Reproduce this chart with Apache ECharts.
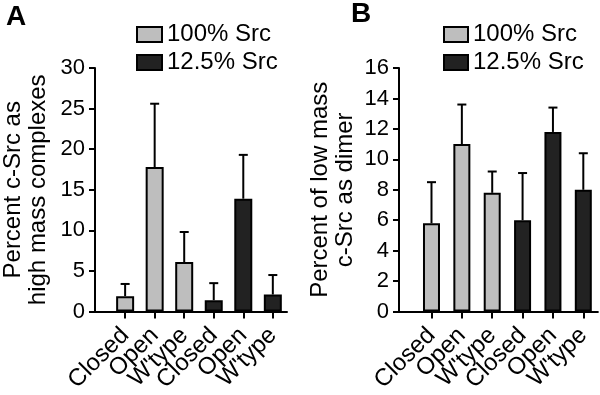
<!DOCTYPE html>
<html>
<head>
<meta charset="utf-8">
<script src="https://cdn.jsdelivr.net/npm/echarts@6/dist/echarts.min.js"></script>
<style>
html,body{margin:0;padding:0;background:#fff;}
#chart{width:600px;height:395px;}
</style>
</head>
<body>
<div id="chart"></div>
<script>
// ---- data ----
var categories = ['Closed', 'Open', "W'type", 'Closed', 'Open', "W'type"];
var seriesNames = ['100% Src', '12.5% Src'];
// Panel A: percent c-Src as high mass complexes
var aFull = [1.9, 17.8, 6.1];
var aFullErr = [1.5, 7.8, 3.7];
var aLow = [1.4, 13.9, 2.1];
var aLowErr = [2.1, 5.4, 2.4];
// Panel B: percent of low mass c-Src as dimer
var bFull = [5.8, 11.0, 7.8];
var bFullErr = [2.7, 2.6, 1.4];
var bLow = [6.0, 11.8, 8.0];
var bLowErr = [3.1, 1.6, 2.4];
var aTicks = [0, 5, 10, 15, 20, 25, 30];
var bTicks = [0, 2, 4, 6, 8, 10, 12, 14, 16];

var FONT = '"Liberation Sans", Arial, Helvetica, sans-serif';
var GRAY = '#bebebe', DARK = '#222222';
var catIdx = categories.map(function (c, i) { return i; });

function pairs(vals, offset) {
  return vals.map(function (v, i) { return [i + offset, v]; });
}
function errData(vals, errs, offset) {
  return vals.map(function (v, i) { return [i + offset, v, errs[i]]; });
}
function errRender(params, api) {
  var x = api.value(0), y = api.value(1), e = api.value(2);
  var p0 = api.coord([x, y]);
  var p1 = api.coord([x, y + e]);
  var hw = 4.5;
  var st = { stroke: '#000', lineWidth: 2 };
  return {
    type: 'group',
    children: [
      { type: 'line', shape: { x1: p0[0], y1: p0[1], x2: p1[0], y2: p1[1] }, style: st },
      { type: 'line', shape: { x1: p1[0] - hw, y1: p1[1], x2: p1[0] + hw, y2: p1[1] }, style: st }
    ]
  };
}
function xAxisCfg(idx, min, max) {
  // empty labels at the axis ends keep the real category labels away from min/max handling
  var labelVals = [min].concat(catIdx, [max]);
  return {
    type: 'value', gridIndex: idx, min: min, max: max,
    axisLine: { show: true, onZero: false, lineStyle: { color: '#000', width: 2 } },
    axisTick: { show: true, customValues: catIdx, length: 7, lineStyle: { color: '#000', width: 2 } },
    axisLabel: {
      customValues: labelVals, rotate: 45, margin: 20,
      hideOverlap: false,
      fontSize: 24, fontFamily: FONT, color: '#000',
      formatter: function (v) {
        var r = Math.round(v);
        return Math.abs(v - r) < 1e-6 && categories[r] !== undefined ? categories[r] : '';
      }
    },
    splitLine: { show: false }
  };
}
function yAxisCfg(idx, ticks, name, gap) {
  return {
    type: 'value', gridIndex: idx, min: ticks[0], max: ticks[ticks.length - 1],
    interval: ticks[1] - ticks[0],
    name: name, nameLocation: 'middle', nameGap: gap,
    nameTextStyle: { fontSize: 24, fontFamily: FONT, color: '#000', lineHeight: 25 },
    axisLine: { show: true, onZero: false, lineStyle: { color: '#000', width: 2 } },
    axisTick: { show: true, length: 6, lineStyle: { color: '#000', width: 2 } },
    axisLabel: { fontSize: 22, fontFamily: FONT, color: '#000', margin: 10, showMinLabel: true, showMaxLabel: true },
    splitLine: { show: false }
  };
}
function barSeries(name, vals, offset, color, ai, bw) {
  return {
    name: name, type: 'bar', xAxisIndex: ai, yAxisIndex: ai,
    data: pairs(vals, offset), barWidth: bw, barGap: '-100%',
    itemStyle: { color: color, borderColor: '#000', borderWidth: 2 },
    z: 2
  };
}
function errSeries(vals, errs, offset, ai) {
  return {
    type: 'custom', xAxisIndex: ai, yAxisIndex: ai,
    data: errData(vals, errs, offset), renderItem: errRender,
    encode: { x: 0, y: 1 }, z: 1, silent: true
  };
}

var chart = echarts.init(document.getElementById('chart'));
chart.setOption({
  animation: false,
  backgroundColor: '#fff',
  title: [
    { text: 'A', left: 6, top: 3, padding: 0, textStyle: { fontSize: 28, fontWeight: 'bold', fontFamily: FONT, color: '#000' } },
    { text: 'B', left: 351, top: 0, padding: 0, textStyle: { fontSize: 28, fontWeight: 'bold', fontFamily: FONT, color: '#000' } }
  ],
  legend: [
    {
      data: seriesNames, orient: 'vertical', left: 136, top: 22.5, padding: 0,
      itemWidth: 25, itemHeight: 15, itemGap: 4, icon: 'rect',
      textStyle: { fontSize: 24, fontFamily: FONT, color: '#000', lineHeight: 24 }
    },
    {
      data: seriesNames, orient: 'vertical', left: 443, top: 22.5, padding: 0,
      itemWidth: 24, itemHeight: 15, itemGap: 4, icon: 'rect',
      textStyle: { fontSize: 24, fontFamily: FONT, color: '#000', lineHeight: 24 }
    }
  ],
  grid: [
    { left: 88, top: 68, width: 199, height: 244 },
    { left: 399, top: 68, width: 200, height: 244 }
  ],
  xAxis: [xAxisCfg(0, -1.02, 5.48), xAxisCfg(1, -1.07, 5.48)],
  yAxis: [
    yAxisCfg(0, aTicks, 'Percent c-Src as\nhigh mass complexes', 44),
    yAxisCfg(1, bTicks, 'Percent of low mass\nc-Src as dimer', 41)
  ],
  series: [
    barSeries(seriesNames[0], aFull, 0, GRAY, 0, 18),
    barSeries(seriesNames[1], aLow, 3, DARK, 0, 18),
    errSeries(aFull, aFullErr, 0, 0),
    errSeries(aLow, aLowErr, 3, 0),
    barSeries(seriesNames[0], bFull, 0, GRAY, 1, 17),
    barSeries(seriesNames[1], bLow, 3, DARK, 1, 17),
    errSeries(bFull, bFullErr, 0, 1),
    errSeries(bLow, bLowErr, 3, 1)
  ]
});
</script>
</body>
</html>
